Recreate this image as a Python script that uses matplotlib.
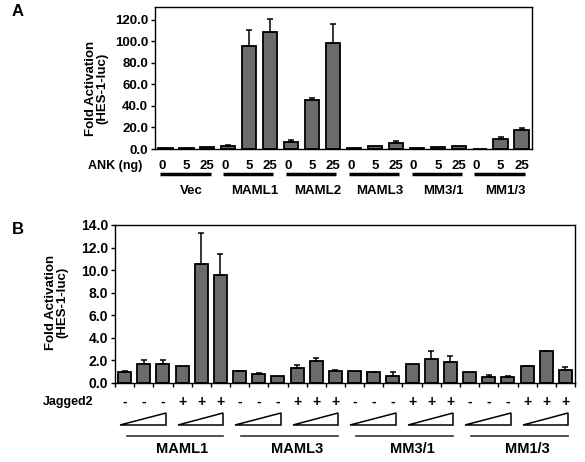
import numpy as np
import matplotlib
matplotlib.use('Agg')
import matplotlib.pyplot as plt
from matplotlib.patches import Polygon
from matplotlib.transforms import blended_transform_factory

plt.rcParams['font.family'] = 'Liberation Sans'
plt.rcParams['font.weight'] = 'bold'

# panel A data
a_groups = ['Vec', 'MAML1', 'MAML2', 'MAML3', 'MM3/1', 'MM1/3']
a_doses = ['0', '5', '25']
a_vals = [0.6, 0.8, 2.0, 3.0, 95.5, 108.5, 6.5, 45.5, 98.5,
          1.0, 3.0, 5.3, 1.0, 1.9, 2.8, 0.3, 9.6, 18.0]
a_err = [0, 0, 0, 0.8, 15.0, 12.0, 2.2, 2.2, 17.5,
         0, 0, 1.8, 0, 0, 0, 0, 1.3, 1.3]

# panel B data
b_groups = ['MAML1', 'MAML3', 'MM3/1', 'MM1/3']
b_jagged = ['-', '-', '-', '+', '+', '+']
b_vals = [1.0, 1.72, 1.72, 1.5, 10.5, 9.6,
          1.07, 0.8, 0.62, 1.3, 1.93, 1.1,
          1.05, 0.98, 0.65, 1.69, 2.1, 1.87,
          1.0, 0.53, 0.5, 1.5, 2.82, 1.19]
b_err = [0.05, 0.33, 0.33, 0, 2.75, 1.85,
         0.03, 0.05, 0, 0.27, 0.32, 0.05,
         0, 0.02, 0.3, 0, 0.72, 0.53,
         0, 0.22, 0.1, 0.03, 0.03, 0.26]

W, H = 585, 462
bar_color = '#6b6b6b'
fig = plt.figure(figsize=(W / 100, H / 100), dpi=100)


def fx(px):
    return px / W


def fy(py):
    return 1 - py / H


def draw_bars(ax, vals, err):
    x = np.arange(len(vals))
    ax.bar(x, vals, width=0.68, color=bar_color, edgecolor='black', linewidth=1.3, zorder=2)
    err = np.array(err)
    m = err > 0
    ax.errorbar(x[m], np.array(vals)[m], yerr=[np.zeros(m.sum()), err[m]], fmt='none',
                ecolor='black', elinewidth=1.1, capsize=2.5, capthick=1.1, zorder=3)
    ax.set_xlim(-0.5, len(vals) - 0.5)
    for s in ax.spines.values():
        s.set_linewidth(1.0)
    return x


# ---- Panel A ----
axA = fig.add_axes([fx(155), fy(149), fx(532 - 155), (149 - 7) / H])
draw_bars(axA, a_vals, a_err)
axA.set_ylim(0, 132)
axA.set_yticks(np.arange(0, 121, 20))
axA.set_yticklabels(['%.1f' % v for v in np.arange(0, 121, 20)], fontsize=9.5, fontweight='bold')
axA.set_xticks([])
axA.tick_params(axis='y', length=3, width=1, pad=2)

trA = blended_transform_factory(axA.transData, fig.transFigure)
for g, name in enumerate(a_groups):
    s = g * 3
    for k, d in enumerate(a_doses):
        axA.text(s + k - (0.15 if k == 0 else 0), fy(166), d, transform=trA, ha='center',
                 va='center', fontsize=9.5, fontweight='bold')
    axA.plot([s - 0.25, s + 2.15], [fy(174), fy(174)], transform=trA, color='black',
             lw=2.5, clip_on=False, solid_capstyle='butt')
    axA.text(s + 1.25, fy(191), name, transform=trA, ha='center', va='center',
             fontsize=9.5, fontweight='bold')
fig.text(fx(115), fy(166), 'ANK (ng)', ha='center', va='center', fontsize=9, fontweight='bold')
fig.text(fx(97), fy(88), 'Fold Activation\n(HES-1-luc)', rotation=90, ha='center', va='center',
         fontsize=9.5, fontweight='bold', linespacing=0.95)
fig.text(fx(18), fy(11), 'A', ha='center', va='center', fontsize=12, fontweight='bold')

# ---- Panel B ----
axB = fig.add_axes([fx(115), fy(383), fx(575 - 115), (383 - 225) / H])
xb = draw_bars(axB, b_vals, b_err)
axB.set_ylim(0, 14)
axB.set_yticks(np.arange(0, 14.1, 2))
axB.set_yticklabels(['%.1f' % v for v in np.arange(0, 14.1, 2)], fontsize=10, fontweight='bold')
axB.set_xticks(np.arange(len(b_vals) + 1) - 0.5)
axB.set_xticklabels([])
axB.tick_params(axis='x', length=3, width=1, direction='out')
axB.tick_params(axis='y', length=3, width=1, pad=2)

trB = blended_transform_factory(axB.transData, fig.transFigure)
for i, xi in enumerate(xb):
    axB.text(xi, fy(402), b_jagged[i % 6], transform=trB, ha='center', va='center',
             fontsize=10, fontweight='bold')
for t in range(len(b_vals) // 3):
    s = t * 3
    tri = Polygon([[s - 0.22, fy(425)], [s + 2.15, fy(425)], [s + 2.15, fy(413)]],
                  closed=True, facecolor='white', edgecolor='black', lw=1.1,
                  transform=trB, clip_on=False)
    axB.add_patch(tri)
for g, name in enumerate(b_groups):
    s = g * 6
    axB.plot([s + 0.1, s + 5.15], [fy(436), fy(436)], transform=trB, color='#333333',
             lw=1.2, clip_on=False)
    axB.text(s + 3.0, fy(449), name, transform=trB, ha='center', va='center',
             fontsize=10.5, fontweight='bold')
fig.text(fx(68), fy(402), 'Jagged2', ha='center', va='center', fontsize=9, fontweight='bold')
fig.text(fx(57), fy(302), 'Fold Activation\n(HES-1-luc)', rotation=90, ha='center', va='center',
         fontsize=9.5, fontweight='bold', linespacing=0.95)
fig.text(fx(18), fy(229), 'B', ha='center', va='center', fontsize=12, fontweight='bold')

fig.savefig('out.png', dpi=100)
